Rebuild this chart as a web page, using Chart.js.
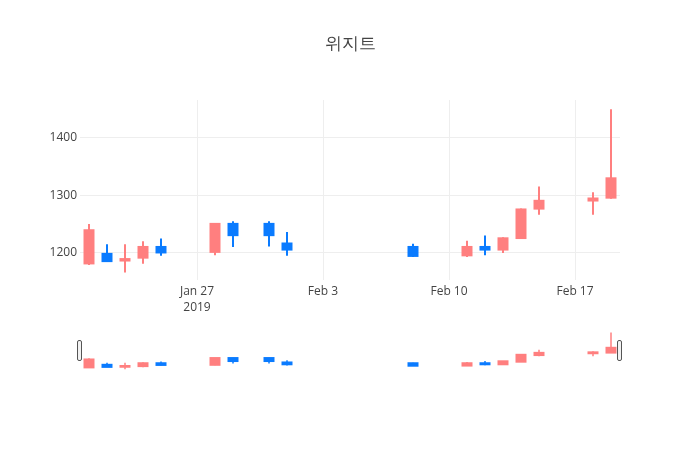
<!DOCTYPE html>
<html>
<head>
<meta charset="utf-8">
<script src="https://cdn.jsdelivr.net/npm/chart.js@4.4.1/dist/chart.umd.min.js"></script>
<style>
  body { margin: 0; background: #fff; }
  #wrap { position: relative; width: 700px; height: 450px; }
  #main { position: absolute; left: 0; top: 0; }
  #slider { position: absolute; left: 0; top: 330px; }
</style>
</head>
<body>
<div id="wrap">
  <canvas id="main" width="700" height="450"></canvas>
  <canvas id="slider" width="700" height="40"></canvas>
</div>
<script>
// daily candles
const dates = ["2019-01-21", "2019-01-22", "2019-01-23", "2019-01-24", "2019-01-25",
  "2019-01-28", "2019-01-29", "2019-01-31", "2019-02-01", "2019-02-08",
  "2019-02-11", "2019-02-12", "2019-02-13", "2019-02-14", "2019-02-15",
  "2019-02-18", "2019-02-19"];
const opens  = [1180, 1200, 1185, 1190, 1212, 1200, 1252, 1252, 1218, 1212, 1194, 1212, 1204, 1224, 1275, 1289, 1294];
const highs  = [1250, 1215, 1215, 1220, 1225, 1252, 1255, 1255, 1236, 1216, 1221, 1230, 1227, 1277, 1315, 1305, 1449];
const lows   = [1179, 1184, 1166, 1181, 1195, 1196, 1210, 1211, 1195, 1193, 1193, 1196, 1200, 1224, 1266, 1266, 1294];
const closes = [1241, 1184, 1191, 1212, 1199, 1252, 1229, 1229, 1204, 1193, 1212, 1204, 1227, 1277, 1292, 1296, 1331];

const xTickDates = ["2019-01-27", "2019-02-03", "2019-02-10", "2019-02-17"];
const xTickLabels = [["Jan 27", "2019"], ["Feb 3"], ["Feb 10"], ["Feb 17"]];
const yTicks = [1200, 1300, 1400];

const titleText = "위지트";
const upColor = "#FF7F7F";
const downColor = "#0A7BFF";
const fontFamily = "'Open Sans', sans-serif";

// days counted from Jan 27
const base = Date.parse("2019-01-27");
const dayOf = (s) => (Date.parse(s) - base) / 86400000;
const days = dates.map(dayOf);
const xMin = days[0] - 0.5;
const xMax = days[days.length - 1] + 0.5;

const colors = opens.map((o, i) => (closes[i] >= o ? upColor : downColor));

function candleSets(bodyWidth, wickWidth, inflate) {
  return [
    {
      data: days.map((d, i) => ({ x: d, y: [opens[i], closes[i]] })),
      backgroundColor: colors,
      barThickness: bodyWidth,
      borderWidth: 0,
      inflateAmount: inflate,
      grouped: false,
      order: 1,
    },
    {
      data: days.map((d, i) => ({ x: d, y: [lows[i], highs[i]] })),
      backgroundColor: colors,
      barThickness: wickWidth,
      borderWidth: 0,
      inflateAmount: 0,
      grouped: false,
      order: 2,
    },
  ];
}

const titlePlugin = {
  id: "plotTitle",
  afterDraw(chart) {
    const ctx = chart.ctx;
    ctx.save();
    ctx.fillStyle = "#444";
    ctx.font = "17px " + fontFamily;
    ctx.textAlign = "center";
    ctx.textBaseline = "middle";
    ctx.fillText(titleText, 350, 44);
    ctx.restore();
  },
};

new Chart(document.getElementById("main"), {
  type: "bar",
  data: { datasets: candleSets(11, 2, 0) },
  options: {
    responsive: false,
    animation: false,
    layout: { padding: { left: 0, right: 80, top: 100, bottom: 130 } },
    scales: {
      x: {
        type: "linear",
        min: xMin,
        max: xMax,
        offset: false,
        afterBuildTicks: (scale) => {
          scale.ticks = xTickDates.map((d) => ({ value: dayOf(d) }));
        },
        afterFit: (scale) => { scale.height = 40; },
        ticks: {
          padding: 3,
          maxRotation: 0,
          color: "#444",
          font: { family: fontFamily, size: 12, lineHeight: 1.35 },
          callback: (v) => {
            const i = xTickDates.findIndex((d) => dayOf(d) === v);
            return i >= 0 ? xTickLabels[i] : "";
          },
        },
        grid: { color: "#eeeeee", drawTicks: false, offset: false },
        border: { display: false },
      },
      y: {
        min: 1153,
        max: 1465,
        afterBuildTicks: (scale) => {
          scale.ticks = yTicks.map((v) => ({ value: v }));
        },
        afterFit: (scale) => { scale.width = 80; },
        ticks: {
          padding: 3,
          color: "#444",
          font: { family: fontFamily, size: 12 },
          callback: (v) => String(v),
        },
        grid: { color: "#eeeeee", drawTicks: false },
        border: { display: false },
      },
    },
    plugins: {
      legend: { display: false },
      tooltip: { enabled: false },
    },
  },
  plugins: [titlePlugin],
});

// range slider handles at both ends
const handles = {
  id: "handles",
  afterDraw(chart) {
    const { ctx, chartArea } = chart;
    const mid = (chartArea.top + chartArea.bottom) / 2;
    ctx.save();
    ctx.strokeStyle = "#555";
    ctx.fillStyle = "#f2f2f2";
    ctx.lineWidth = 1;
    [chartArea.left, chartArea.right].forEach((x) => {
      const w = 4, h = 20;
      ctx.beginPath();
      ctx.roundRect(Math.round(x - w / 2) - 0.5, Math.round(mid - h / 2) + 0.5, w, h, 1.5);
      ctx.fill();
      ctx.stroke();
    });
    ctx.restore();
  },
};

new Chart(document.getElementById("slider"), {
  type: "bar",
  data: { datasets: candleSets(9, 1.5, 1) },
  options: {
    responsive: false,
    animation: false,
    layout: { padding: { left: 80, right: 80, top: 0, bottom: 0 } },
    scales: {
      x: { type: "linear", min: xMin, max: xMax, offset: false, display: false },
      y: { min: 1160, max: 1468, display: false },
    },
    plugins: {
      legend: { display: false },
      tooltip: { enabled: false },
    },
  },
  plugins: [handles],
});
</script>
</body>
</html>
